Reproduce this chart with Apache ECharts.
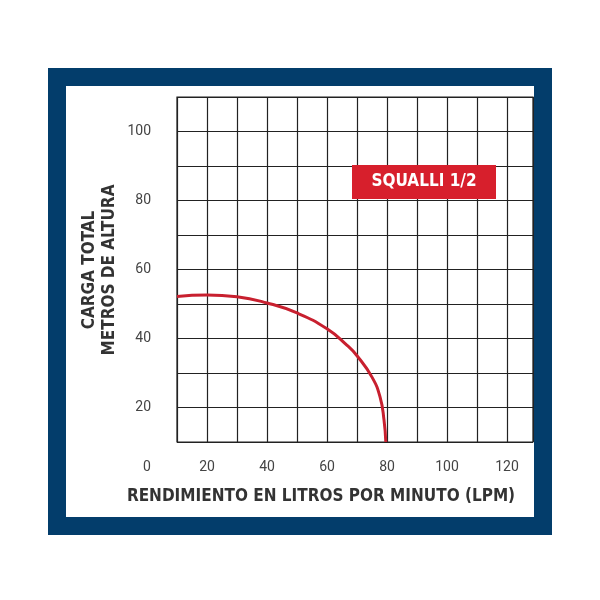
<!DOCTYPE html>
<html>
<head>
<meta charset="utf-8">
<script src="https://cdn.jsdelivr.net/npm/echarts@6/dist/echarts.min.js"></script>
<style>html,body{margin:0;background:#fff}#c{width:600px;height:600px}</style>
</head>
<body>
<div id="c"></div>
<script>
// curve: [lpm, metros]
const curveX = [10, 20, 30, 40, 50, 60, 66.7, 70, 75, 77.7, 79, 79.6];
const curveY = [52.2, 52.6, 52.1, 50.3, 47.4, 42.8, 38, 35, 28.8, 23, 16.4, 10];
const xLabels = [20, 40, 60, 80, 100, 120];
const yLabels = [20, 40, 60, 80, 100];
const seriesName = 'SQUALLI 1/2';

const cond = '"Liberation Sans Narrow", "DejaVu Sans Condensed", Roboto, sans-serif';
const chart = echarts.init(document.getElementById('c'));
chart.setOption({
  animation: false,
  grid: { left: 177, top: 97, width: 356, height: 345 },
  xAxis: {
    type: 'value', min: 10, max: 128.67, interval: 10,
    axisLine: { show: false }, axisTick: { show: false },
    splitLine: { show: true, lineStyle: { color: '#222', width: 1.2 } },
    axisLabel: {
      color: '#444', fontSize: 14, fontFamily: 'Roboto', margin: 18, showMaxLabel: false,
      formatter: v => xLabels.includes(v) ? String(v) : ''
    }
  },
  yAxis: {
    type: 'value', min: 10, max: 110, interval: 10,
    axisLine: { show: false }, axisTick: { show: false },
    splitLine: { show: true, lineStyle: { color: '#222', width: 1.2 } },
    axisLabel: {
      color: '#444', fontSize: 14, fontFamily: 'Roboto', margin: 26,
      formatter: v => yLabels.includes(v) ? String(v) : ''
    }
  },
  series: [{
    name: seriesName, type: 'line', smooth: true, symbol: 'none',
    data: curveX.map((x, i) => [x, curveY[i]]),
    lineStyle: { color: '#c8202f', width: 3 }
  }],
  graphic: [
    // blue frame
    { type: 'rect', shape: { x: 57, y: 77, width: 486, height: 449 },
      style: { fill: 'none', stroke: '#033d6b', lineWidth: 18 }, z: 10 },
    // grid border
    { type: 'rect', shape: { x: 177, y: 97, width: 356, height: 345 },
      style: { fill: 'none', stroke: '#222', lineWidth: 1.2 } },
    { type: 'text', left: 143, top: 460, style: { text: '0', fill: '#444', font: '14px Roboto' } },
    { type: 'rect', shape: { x: 352, y: 165, width: 144, height: 34 },
      style: { fill: '#d71f2c' }, z: 5 },
    { type: 'text', x: 424, y: 182, z: 6,
      style: { text: seriesName, fill: '#fff', font: 'bold 17px ' + cond, align: 'center', verticalAlign: 'middle' } },
    { type: 'text', x: 321, y: 497,
      style: { text: 'RENDIMIENTO EN LITROS POR MINUTO (LPM)', fill: '#333', font: 'bold 17px ' + cond, align: 'center', verticalAlign: 'middle' } },
    { type: 'text', x: 100, y: 270, rotation: Math.PI / 2,
      style: { text: 'CARGA TOTAL\nMETROS DE ALTURA', fill: '#333', font: 'bold 17px ' + cond, align: 'center', verticalAlign: 'middle', lineHeight: 20 } }
  ]
});
</script>
</body>
</html>
